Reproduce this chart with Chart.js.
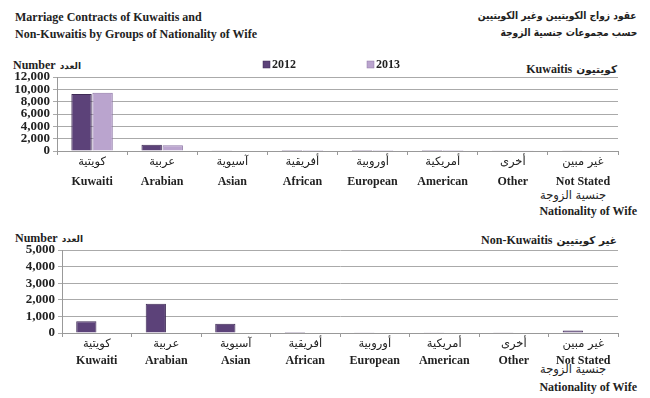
<!DOCTYPE html>
<html>
<head>
<meta charset="utf-8">
<script src="https://cdn.jsdelivr.net/npm/chart.js@4"></script>
<style>
  html,body{margin:0;padding:0;background:#fff;}
  body{width:650px;height:398px;position:relative;overflow:hidden;font-family:"Liberation Serif","DejaVu Sans",serif;color:#222;}
  .t{position:absolute;white-space:nowrap;line-height:1;}
  .en{font-family:"Liberation Serif",serif;font-weight:bold;font-size:12px;}
  .ar{font-family:"DejaVu Sans",sans-serif;font-weight:bold;font-size:10.5px;}
  .sq{transform:scaleX(0.87);transform-origin:right center;}
  .ctr{position:absolute;width:100px;text-align:center;white-space:nowrap;line-height:1;font-family:"DejaVu Sans",sans-serif;font-size:11.5px;}
  .box{position:absolute;left:0;width:650px;}
</style>
</head>
<body>
<div class="t en" style="left:15px;top:11px;">Marriage Contracts of Kuwaitis and</div>
<div class="t en" style="left:15px;top:28px;">Non-Kuwaitis by Groups of Nationality of Wife</div>
<div class="t ar sq" dir="rtl" style="right:13px;top:10px;">عقود زواج الكويتيين وغير الكويتيين</div>
<div class="t ar sq" dir="rtl" style="right:13px;top:27px;">حسب مجموعات جنسية الزوجة</div>

<div class="t" style="left:13px;top:56px;"><span class="en">Number</span> <span class="ar" style="font-size:9px">العدد</span></div>
<div class="t" style="right:33px;top:60px;"><span class="en">Kuwaitis</span> <span class="ar">كويتيون</span></div>
<div class="ctr" dir="rtl" style="left:523px;top:190px;">جنسية الزوجة</div>
<div class="t en" style="right:13px;top:205px;">Nationality of Wife</div>

<div class="t" style="left:15px;top:229px;"><span class="en">Number</span> <span class="ar" style="font-size:9px">العدد</span></div>
<div class="t" style="right:33px;top:231px;"><span class="en">Non-Kuwaitis</span> <span class="ar">غير كويتيين</span></div>
<div class="ctr" dir="rtl" style="left:523px;top:364px;">جنسية الزوجة</div>
<div class="t en" style="right:13px;top:381px;">Nationality of Wife</div>

<div class="box" style="top:52px;height:168px;"><canvas id="c1"></canvas></div>
<div class="box" style="top:228px;height:170px;"><canvas id="c2"></canvas></div>

<script>
const categoriesAr = ['كويتية','عربية','آسيوية','أفريقية','أوروبية','أمريكية','أخرى','غير مبين'];
const categoriesEn = ['Kuwaiti','Arabian','Asian','African','European','American','Other','Not Stated'];
const seriesNames = ['2012','2013'];
const kuwaitis2012 = [9250, 1000, 60, 5, 10, 10, 40, 120];
const kuwaitis2013 = [9450, 950, 70, 5, 10, 10, 40, 130];
const nonKuwaitis2012 = [710, 1760, 550, 5, 10, 10, 20, 150];
const nonKuwaitis2013 = [0, 0, 0, 0, 0, 0, 0, 0];
const ticksTop = [0, 2000, 4000, 6000, 8000, 10000, 12000];
const ticksBottom = [0, 1000, 2000, 3000, 4000, 5000];

const colors = ['#5c4279', '#baa4ce'];
const borders = ['#3f2b56', '#8e77a6'];

const legendPlugin = {
  id: 'fixedLegend',
  afterDraw(chart, args, opts) {
    if (!opts.show) return;
    const ctx = chart.ctx;
    ctx.save();
    ctx.textBaseline = 'middle';
    ctx.font = 'bold 12px "Liberation Serif", serif';
    chart.data.datasets.forEach((ds, i) => {
      const x = opts.xs[i], y = opts.y;
      ctx.fillStyle = ds.backgroundColor;
      ctx.fillRect(x, y - 4, 7, 7);
      ctx.strokeStyle = ds.borderColor;
      ctx.lineWidth = 0.5;
      ctx.strokeRect(x, y - 4, 7, 7);
      ctx.fillStyle = '#222';
      ctx.fillText(ds.label, x + 9, y);
    });
    ctx.restore();
  }
};

function makeChart(id, d12, d13, ticks, yWidth, padTop, xH, x2H, arPad, enPad, legend) {
  const maxV = ticks[ticks.length - 1];
  const step = ticks[1] - ticks[0];
  return new Chart(document.getElementById(id), {
    type: 'bar',
    data: {
      labels: categoriesAr,
      datasets: [
        {label: seriesNames[0], data: d12, backgroundColor: colors[0], borderColor: borders[0], borderWidth: 1, borderSkipped: 'bottom', categoryPercentage: 0.6, barPercentage: 0.97},
        {label: seriesNames[1], data: d13, backgroundColor: colors[1], borderColor: borders[1], borderWidth: 1, borderSkipped: 'bottom', categoryPercentage: 0.6, barPercentage: 0.97}
      ]
    },
    options: {
      responsive: true,
      maintainAspectRatio: false,
      animation: false,
      layout: {padding: {top: padTop, right: 32, left: 0, bottom: 0}},
      plugins: {
        legend: {display: false},
        tooltip: {enabled: false},
        fixedLegend: legend
      },
      scales: {
        x: {
          type: 'category',
          position: 'bottom',
          offset: true,
          grid: {display: true, drawOnChartArea: false, drawTicks: true, tickLength: 4, color: '#999', offset: true},
          border: {display: true, color: '#999'},
          ticks: {font: {family: '"DejaVu Sans", sans-serif', size: 11.5}, color: '#222', padding: arPad, maxRotation: 0, autoSkip: false},
          afterFit(s) { s.height = xH; }
        },
        x2: {
          type: 'category',
          position: 'bottom',
          labels: categoriesEn,
          offset: true,
          grid: {display: false, drawTicks: false},
          border: {display: false},
          ticks: {font: {family: '"Liberation Serif", serif', size: 12, weight: 'bold'}, color: '#222', padding: enPad, maxRotation: 0, autoSkip: false},
          afterFit(s) { s.height = x2H; }
        },
        y: {
          min: 0, max: maxV,
          ticks: {stepSize: step, autoSkip: false, font: {family: '"Liberation Serif", serif', size: 13, weight: 'bold', lineHeight: 1}, color: '#222', padding: 3,
                  callback: v => v.toLocaleString('en-US')},
          grid: {color: '#aaa', tickLength: 4, drawTicks: true},
          border: {display: true, color: '#999'},
          afterFit(s) { s.width = yWidth; }
        }
      }
    },
    plugins: [legendPlugin]
  });
}

makeChart('c1', kuwaitis2012, kuwaitis2013, ticksTop, 57, 25, 22, 47, 0, 2, {show: true, xs: [263, 367], y: 13});
makeChart('c2', nonKuwaitis2012, nonKuwaitis2013, ticksBottom, 62, 22, 20, 45, 0, 1, {show: false});
</script>
</body>
</html>
